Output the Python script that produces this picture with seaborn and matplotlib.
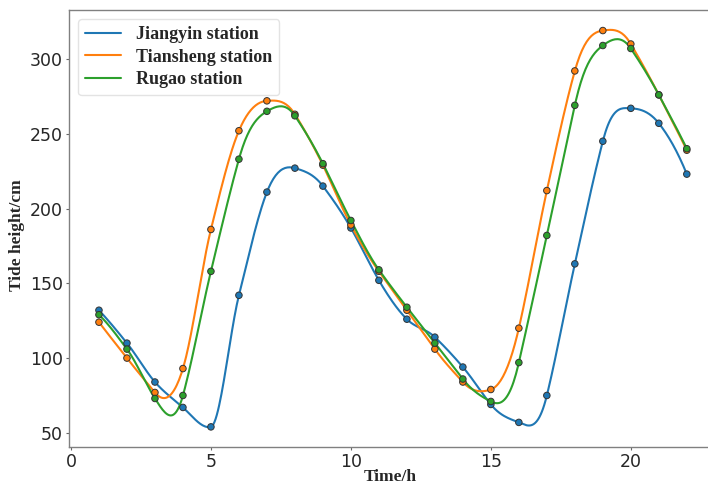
import numpy as np
import pandas as pd
import matplotlib
matplotlib.use("Agg")
import matplotlib.pyplot as plt
import seaborn as sns

# Hourly tide observations (cm)
hours = list(range(1, 23))
jiangyin = [132, 110, 84, 67, 54, 142, 211, 227, 215, 187, 152,
            126, 114, 94, 69, 57, 75, 163, 245, 267, 257, 223]
tiansheng = [124, 100, 77, 93, 186, 252, 272, 263, 229, 189, 158,
             132, 106, 84, 79, 120, 212, 292, 319, 310, 276, 239]
rugao = [129, 106, 73, 75, 158, 233, 265, 262, 230, 192, 159,
         134, 110, 86, 71, 97, 182, 269, 309, 307, 276, 240]
station_names = ["Jiangyin station", "Tiansheng station", "Rugao station"]


def smooth_curve(x, y, n=500):
    """Akima interpolation through the observations, for drawing."""
    x = np.asarray(x, float)
    y = np.asarray(y, float)
    h = np.diff(x)
    m = np.diff(y) / h
    # extend the secant slopes by two on each side
    mm = np.concatenate([[3 * m[0] - 2 * m[1], 2 * m[0] - m[1]], m,
                         [2 * m[-1] - m[-2], 3 * m[-1] - 2 * m[-2]]])
    dm = np.abs(np.diff(mm))
    w1, w2 = dm[2:], dm[:-2]
    mid = 0.5 * (mm[1:-2] + mm[2:-1])
    den = w1 + w2
    with np.errstate(invalid="ignore", divide="ignore"):
        t = np.where(den > 1e-12,
                     (w1 * mm[1:-2] + w2 * mm[2:-1]) / np.where(den > 0, den, 1),
                     mid)
    xs = np.linspace(x[0], x[-1], n)
    idx = np.clip(np.searchsorted(x, xs) - 1, 0, len(x) - 2)
    hh = h[idx]
    s = (xs - x[idx]) / hh
    h00 = 2 * s ** 3 - 3 * s ** 2 + 1
    h10 = s ** 3 - 2 * s ** 2 + s
    h01 = -2 * s ** 3 + 3 * s ** 2
    h11 = s ** 3 - s ** 2
    ys = h00 * y[idx] + h10 * hh * t[idx] + h01 * y[idx + 1] + h11 * hh * t[idx + 1]
    return xs, ys


sns.set_theme(style="white")
plt.rcParams["font.family"] = ["DejaVu Sans"]

palette = ["#1f77b4", "#ff7f0e", "#2ca02c"]

obs = pd.DataFrame({
    "hour": hours * 3,
    "height": jiangyin + tiansheng + rugao,
    "station": sum([[s] * len(hours) for s in station_names], []),
})

curves = []
for name, vals in zip(station_names, [jiangyin, tiansheng, rugao]):
    xs, ys = smooth_curve(hours, vals)
    curves.append(pd.DataFrame({"hour": xs, "height": ys, "station": name}))
curves = pd.concat(curves, ignore_index=True)

fig = plt.figure(figsize=(7.08, 4.84), dpi=100)
ax = fig.add_axes([69 / 708, 37 / 484, 643 / 708, 437 / 484])

sns.lineplot(data=curves, x="hour", y="height", hue="station",
             palette=palette, linewidth=1.5, ax=ax, sort=False)
sns.scatterplot(data=obs, x="hour", y="height", hue="station",
                palette=palette, s=22, edgecolor="#333333", linewidth=0.7,
                ax=ax, legend=False, zorder=3)

ax.set_xlim(-0.07, 22.9)
ax.set_xticks([0, 5, 10, 15, 20])
ax.set_yticks([50, 100, 150, 200, 250, 300])
ax.tick_params(axis="both", labelsize=12.5, length=2.5, width=0.8, pad=2,
               color="#666666", bottom=True, left=True)

serif_bold = dict(family=["Liberation Serif", "DejaVu Serif"],
                  weight="bold", size=12.5)
ax.set_xlabel("Time/h", fontdict=serif_bold)
ax.set_ylabel("Tide height/cm", fontdict=serif_bold)
ax.xaxis.set_label_coords(0.5, -34 / 437)
ax.xaxis.label.set_va("baseline")
ax.yaxis.set_label_coords(-44 / 643, 0.485)

for sp in ax.spines.values():
    sp.set_color("#808080")
    sp.set_linewidth(1.0)

leg = ax.legend(loc="upper left", prop=dict(family=["Liberation Serif"],
                                            weight="bold", size=13),
                frameon=True, borderaxespad=0.5, handlelength=2.0,
                labelspacing=0.3)
leg.get_frame().set_edgecolor("#dddddd")

fig.savefig("out.png", dpi=100)
